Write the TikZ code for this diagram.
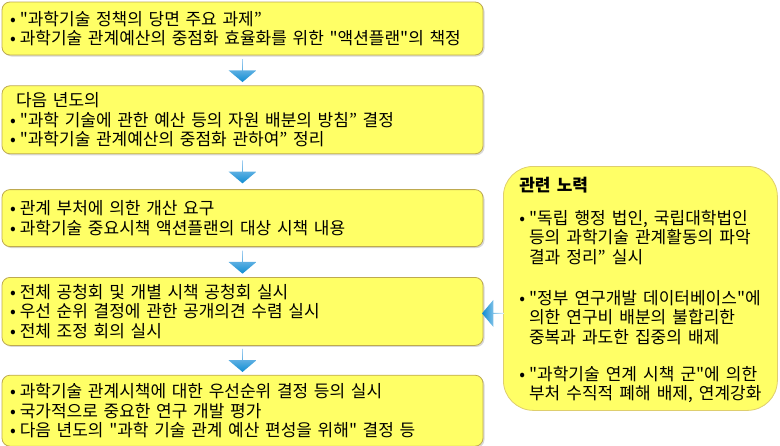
\documentclass[tikz,border=0pt]{standalone}
\usepackage{fontspec}
\setmainfont[WordSpace=1.6, Ligatures=TeXOff]{Noto Sans CJK KR}
\usepackage{tikz}
\usetikzlibrary{positioning,shapes.arrows,shadows}
\definecolor{boxfill}{RGB}{255,255,102}
\definecolor{boxline}{RGB}{190,170,80}
\definecolor{sideline}{RGB}{222,206,110}
\definecolor{arrtop}{RGB}{165,208,242}
\definecolor{arrbot}{RGB}{15,140,210}
\newcommand{\bul}{\textbullet\hspace{4pt}}
\tikzstyle{stage} = [draw=boxline, fill=boxfill, rounded corners=8pt, line width=0.8pt,
    text width=465pt, inner xsep=8pt, inner ysep=0pt, align=left,
    font=\fontsize{17}{19.5}\selectfont,
    drop shadow={opacity=0.3, shadow xshift=1.5pt, shadow yshift=-1.5pt}]
\tikzstyle{effort} = [draw=sideline, fill=boxfill, rounded corners=30pt, line width=0.8pt,
    minimum width=274pt, minimum height=244pt, inner sep=0pt,
    font=\fontsize{17}{18.5}\selectfont]
\tikzstyle{downarrow} = [single arrow, shape border rotate=270, draw=none,
    top color=arrtop, bottom color=arrbot, minimum width=28pt, minimum height=23pt,
    single arrow head extend=7pt, single arrow tip angle=100, inner sep=0pt]
\tikzstyle{leftarrow} = [single arrow, shape border rotate=180, draw=none,
    left color=arrbot, right color=arrtop!30, minimum width=27pt, minimum height=22pt,
    single arrow head extend=6pt, single arrow tip angle=100, inner sep=0pt]

\begin{document}
\begin{tikzpicture}[x=1pt, y=-1pt]
    \useasboundingbox (0,0) rectangle (780,445);
    % the five steps of the procedure
    \node [stage, minimum height=53pt] (step1) at (242.5,28.5)
        {\bul{}"과학기술 정책의 당면 주요 과제”\\
         \bul{}과학기술 관계예산의 중점화 효율화를 위한 "액션플랜"의 책정};
    \node [stage, minimum height=68pt, below=30pt of step1] (step2)
        {\hspace*{6pt}다음 년도의\\
         \bul{}"과학 기술에 관한 예산 등의 자원 배분의 방침” 결정\\
         \bul{}"과학기술 관계예산의 중점화 관하여” 정리};
    \node [stage, minimum height=57pt, below=35pt of step2] (step3)
        {\bul{}관계 부처에 의한 개산 요구\\
         \bul{}과학기술 중요시책 액션플랜의 대상 시책 내용};
    \node [stage, minimum height=68pt, below=30pt of step3] (step4)
        {\bul{}전체 공청회 및 개별 시책 공청회 실시\\
         \bul{}우선 순위 결정에 관한 공개의견 수렴 실시\\
         \bul{}전체 조정 회의 실시};
    \node [stage, minimum height=71pt, below=29pt of step4] (step5)
        {\bul{}과학기술 관계시책에 대한 우선순위 결정 등의 실시\\
         \bul{}국가적으로 중요한 연구 개발 평가\\
         \bul{}다음 년도의 "과학 기술 관계 예산 편성을 위해" 결정 등};
    % side box
    \node [effort, anchor=north west] (side) at (503,166)
        {\begin{tabular}{@{}l@{\hspace{4pt}}l@{}}
         \multicolumn{2}{@{}l}{\rule{0pt}{20pt}\textbf{관련 노력}}\\[13pt]
         \textbullet & "독립 행정 법인, 국립대학법인\\
                     & 등의 과학기술 관계활동의 파악\\
                     & 결과 정리” 실시\\[21pt]
         \textbullet & "정부 연구개발 데이터베이스"에\\
                     & 의한 연구비 배분의 불합리한\\
                     & 중복과 과도한 집중의 배제\\[17pt]
         \textbullet & "과학기술 연계 시책 군"에 의한\\
                     & 부처 수직적 폐해 배제, 연계강화
         \end{tabular}};
    % arrows
    \path (step1.south) -- node [downarrow] (arr1) {} (step2.north);
    \path (step2.south) -- node [downarrow] (arr2) {} (step3.north);
    \path (step3.south) -- node [downarrow] (arr3) {} (step4.north);
    \path (step4.south) -- node [downarrow] (arr4) {} (step5.north);
    \path (side.west |- step4.east) -- node [leftarrow, yshift=-2pt] (arr5) {} (step4.east);
\end{tikzpicture}
\end{document}
